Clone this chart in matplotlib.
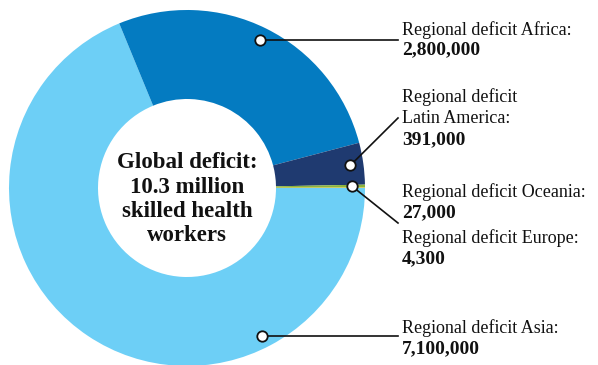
import numpy as np
import matplotlib.pyplot as plt

# regional shortfall of skilled health workers
regions = ["Asia", "Africa", "Latin America", "Oceania", "Europe"]
deficits = [7100000, 2800000, 391000, 27000, 4300]
value_labels = ["7,100,000", "2,800,000", "391,000", "27,000", "4,300"]
colors = ["#6dcff6", "#047bc1", "#1f3a70", "#8cb43c", "#e8c43a"]

W, H = 598, 365
fig = plt.figure(figsize=(W / 100, H / 100), dpi=100)
ax = fig.add_axes([0, 0, 1, 1])

cx, cy, R = 187, H - 188, 178
wedges, _ = ax.pie(deficits, colors=colors, startangle=0, counterclock=False,
                   center=(cx, cy), radius=R,
                   wedgeprops=dict(width=R / 2, linewidth=0))
ax.set_xlim(0, W)
ax.set_ylim(0, H)
ax.set_aspect("equal")
ax.axis("off")

serif = ["Liberation Serif", "DejaVu Serif"]
ink = "#111111"

# centre caption, one line at a time (baselines in pixels from the top)
centre_lines = ["Global deficit:", "10.3 million", "skilled health", "workers"]
for line, base in zip(centre_lines, [168, 193, 217, 241]):
    ax.text(cx, H - base, line, ha="center", va="baseline", fontsize=16.5,
            fontweight="bold", family=serif, color=ink)


def dot_at(wedge, frac=0.5, r=165):
    # point inside a wedge, frac along its angular span
    ang = wedge.theta1 + (wedge.theta2 - wedge.theta1) * frac
    a = np.deg2rad(ang)
    return cx + r * np.cos(a), cy + r * np.sin(a)


def callout(p, q):
    ax.plot([p[0], q[0]], [p[1], q[1]], color=ink, lw=1.2, zorder=3)
    ax.plot(*p, marker="o", ms=7.5, mfc="white", mec=ink, mew=1.3, zorder=4)


tx = 402
africa = dot_at(wedges[1])
callout(africa, (tx - 4, africa[1]))
latin = dot_at(wedges[2])
callout(latin, (tx - 4, H - 118))
oceania = dot_at(wedges[3])
callout(oceania, (tx - 4, H - 223))
asia = dot_at(wedges[0], frac=0.745, r=166)
callout(asia, (tx - 4, asia[1]))


def label(heads, value, bases):
    for head, base in zip(heads, bases[:-1]):
        ax.text(tx, H - base, head, ha="left", va="baseline", fontsize=13,
                family=serif, color=ink)
    ax.text(tx, H - bases[-1], value, ha="left", va="baseline", fontsize=14,
            fontweight="bold", family=serif, color=ink)


label(["Regional deficit Africa:"], value_labels[1], [35, 54])
label(["Regional deficit", "Latin America:"], value_labels[2], [102, 123, 144])
label(["Regional deficit Oceania:"], value_labels[3], [197, 217])
label(["Regional deficit Europe:"], value_labels[4], [243, 263])
label(["Regional deficit Asia:"], value_labels[0], [333, 353])

fig.savefig("out.png", dpi=100, facecolor="white")
